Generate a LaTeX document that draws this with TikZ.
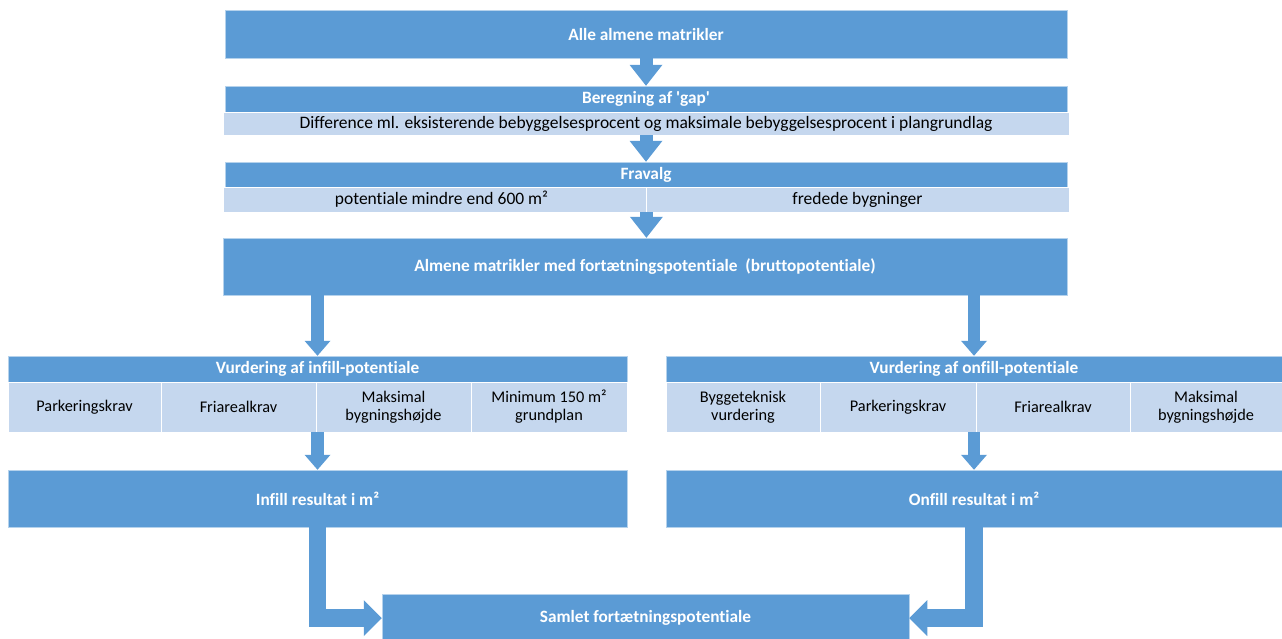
\documentclass[tikz,border=0pt]{standalone}
\usepackage{fontspec}
\setmainfont{Carlito}[Ligatures={TeXOff,NoCommon}]
\usetikzlibrary{arrows.meta,calc}
\definecolor{dblue}{HTML}{5B9BD5}
\definecolor{lblue}{HTML}{C5D7EE}
\begin{document}
\begin{tikzpicture}[x=1pt,y=-1pt,
  dark/.style={rectangle, fill=dblue, draw=white!55!dblue, line width=0.5pt, inner sep=0pt,
    text=white, align=center, font=\bfseries\fontsize{17.3}{20}\selectfont},
  light/.style={rectangle, fill=lblue, draw=white, line width=0.8pt, inner sep=0pt,
    text=black, align=center, font=\fontsize{17.5}{20}\selectfont},
  cell/.style={light, font=\fontsize{16.3}{18}\selectfont},
  bigarrow/.style={draw=dblue, line width=13pt, -{Triangle[width=33pt,length=21pt,line width=0pt]}},
  midarrow/.style={draw=dblue, line width=12.5pt, -{Triangle[width=26pt,length=15pt,line width=0pt]}},
  elbowarrow/.style={draw=dblue, line width=17.5pt, line join=miter, -{Triangle[width=36pt,length=18pt,line width=0pt]}}
]
\useasboundingbox (0,0) rectangle (1282,638);
\clip (0,0) rectangle (1282,638);

% top column
\node[dark, minimum width=842pt, minimum height=48pt] (n1) at (646,34) {Alle almene matrikler};
\node[dark, minimum width=842pt, minimum height=26pt] (gaph) at (646,99) {Beregning af 'gap'};
\node[light, minimum width=846pt, minimum height=23pt] (gapl) at (646,123.5) {Difference ml. eksisterende bebyggelsesprocent og maksimale bebyggelsesprocent i plangrundlag};
\node[dark, minimum width=842pt, minimum height=25pt] (frah) at (646,174.5) {Fravalg};
\node[light, minimum width=423pt, minimum height=25pt] (fral1) at (434.5,199.5) {\hspace*{14pt}potentiale mindre end 600 m²};
\node[light, minimum width=423pt, minimum height=25pt] (fral2) at (857.5,199.5) {fredede bygninger};
\node[dark, minimum width=844pt, minimum height=57pt] (almene) at (645,266.5) {Almene matrikler med fortætningspotentiale\ \ (bruttopotentiale)};

% left branch
\node[dark, minimum width=619pt, minimum height=26pt] (inh) at (317.5,369) {Vurdering af infill-potentiale};
\node[cell, minimum width=153pt, minimum height=50pt] (ic1) at (84.5,407) {Parkeringskrav};
\node[cell, minimum width=155pt, minimum height=50pt] (ic2) at (238.5,407) {Friarealkrav};
\node[cell, minimum width=155pt, minimum height=50pt] (ic3) at (393.5,407) {Maksimal\\bygningshøjde};
\node[cell, minimum width=156pt, minimum height=50pt] (ic4) at (549,407) {Minimum 150 m²\\grundplan};
\node[dark, minimum width=619pt, minimum height=57pt] (infill) at (317.5,498.5) {Infill resultat i m²};

% right branch
\node[dark, minimum width=616pt, minimum height=26pt] (onh) at (974,369) {Vurdering af onfill-potentiale};
\node[cell, minimum width=154pt, minimum height=50pt] (oc1) at (743,407) {Byggeteknisk\\vurdering};
\node[cell, minimum width=156pt, minimum height=50pt] (oc2) at (898,407) {Parkeringskrav};
\node[cell, minimum width=154pt, minimum height=50pt] (oc3) at (1053,407) {Friarealkrav};
\node[cell, minimum width=152pt, minimum height=50pt] (oc4) at (1206,407) {Maksimal\\bygningshøjde};
\node[dark, minimum width=616pt, minimum height=57pt] (onfill) at (974,498.5) {Onfill resultat i m²};

% bottom
\node[dark, minimum width=527pt, minimum height=48pt] (samlet) at (645.5,618) {Samlet fortætningspotentiale};

% connectors
\draw[bigarrow] (n1.south) -- (gaph.north);
\draw[bigarrow] (gapl.south) -- (frah.north);
\draw[bigarrow] (fral1.south east) -- (fral1.south east |- almene.north);
\draw[midarrow] (almene.south -| inh.north) -- (inh.north);
\draw[midarrow] (almene.south -| onh.north) -- (onh.north);
\draw[midarrow] (inh.north |- ic2.south) -- (infill.north);
\draw[midarrow] (onh.north |- oc2.south) -- (onfill.north);
\draw[elbowarrow] (infill.south) |- (samlet.west);
\draw[elbowarrow] (onfill.south) |- (samlet.east);
\end{tikzpicture}
\end{document}
